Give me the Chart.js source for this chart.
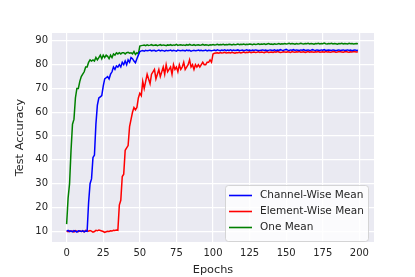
<!DOCTYPE html>
<html>
<head>
<meta charset="utf-8">
<script src="https://cdn.jsdelivr.net/npm/chart.js@4"></script>
<style>
  body { margin: 0; background: #fff; }
  canvas { display: block; }
</style>
</head>
<body>
<canvas id="acc-chart" width="415" height="277"></canvas>
<script>
const xTicks = [0, 25, 50, 75, 100, 125, 150, 175, 200]
const yTicks = [10, 20, 30, 40, 50, 60, 70, 80, 90]
const seriesLabels = ["Channel-Wise Mean", "Element-Wise Mean", "One Mean"]

const channelWise = [
    10.1, 10.4, 9.9, 10.2, 9.8, 10.3, 10.0, 9.7, 10.2, 10.1,
    9.9, 10.3, 9.8, 10.1, 10.0, 22, 30, 32, 41, 42,
    55, 63, 66, 66.5, 67, 71, 74, 74.5, 75, 74,
    76, 77, 79, 78, 79.5, 79, 80, 79, 81, 80,
    81.5, 80, 82, 81, 83, 82.5, 81.5, 80.8, 82.5, 84,
    85.5, 85.8, 85.9, 85.7, 86.0, 85.8, 85.9, 86.1, 85.8, 85.9,
    86.0, 85.7, 85.9, 86.1, 85.8, 86.0, 85.9, 85.7, 86.0, 85.8,
    85.9, 86.1, 85.8, 86.0, 85.9, 85.7, 86.1, 85.9, 85.8, 86.0,
    85.9, 85.8, 86.1, 85.9, 86.0, 85.7, 85.9, 86.0, 85.8, 85.9,
    86.1, 85.9, 86.0, 85.8, 85.9, 86.1, 85.8, 86.0, 85.9, 85.8,
    86.0, 86.1, 85.9, 86.2, 86.0, 85.9, 86.1, 86.0, 86.2, 85.9,
    86.1, 86.0, 86.2, 85.9, 86.1, 86.0, 86.1, 86.2, 85.9, 86.0,
    86.1, 85.9, 86.0, 86.2, 86.0, 86.1, 85.9, 86.1, 86.0, 86.2,
    86.1, 85.9, 86.0, 86.1, 86.2, 86.0, 86.1, 85.9, 86.0, 86.2,
    86.1, 86.0, 86.2, 85.9, 86.1, 86.0, 86.3, 86.1, 86.0, 86.2,
    86.4, 86.1, 86.0, 86.2, 86.1, 86.3, 86.0, 86.2, 86.1, 86.0,
    86.2, 86.1, 86.3, 86.0, 86.1, 86.2, 86.0, 86.1, 86.3, 86.1,
    86.0, 86.2, 86.1, 86.0, 86.2, 86.1, 86.3, 86.0, 86.1, 86.2,
    86.1, 86.0, 86.2, 86.1, 85.9, 86.1, 86.2, 86.0, 86.1, 86.2,
    86.0, 86.1, 86.2, 86.0, 86.1, 85.9, 86.1, 86.2, 86.0, 86.1
]

const elementWise = [
    10.0, 9.8, 10.2, 9.9, 10.1, 9.7, 10.3, 10.0, 9.8, 10.2,
    9.9, 10.1, 9.8, 10.4, 10.2, 10.0, 10.3, 10.1, 9.6, 9.9,
    10.4, 10.2, 10.5, 10.3, 10.1, 9.9, 9.5, 9.8, 10.0, 9.9,
    10.2, 10.1, 10.4, 10.3, 10.5, 10.4, 21, 23, 33, 34,
    44, 45, 46, 54, 57, 60, 62, 61, 62, 66,
    68, 67, 73, 70, 73, 76, 74, 72, 76, 77,
    78, 74, 76, 78, 75, 77, 79, 76, 80, 77,
    78, 79, 76, 80, 78, 79, 77, 80, 78, 79,
    81, 78, 79, 80, 82, 79, 80, 78, 80, 79,
    80, 79, 80, 81, 80, 80, 81, 81, 82, 81,
    84.5, 84.8, 84.9, 85.0, 84.8, 85.1, 84.9, 85.0, 85.2, 84.9,
    85.0, 85.1, 84.9, 85.2, 85.0, 84.8, 85.1, 85.0, 85.2, 84.9,
    85.1, 85.3, 85.0, 85.2, 85.1, 85.4, 85.0, 85.2, 85.3, 85.1,
    85.2, 85.4, 85.1, 85.3, 85.2, 85.0, 85.3, 85.4, 85.1, 85.2,
    85.3, 85.1, 85.4, 85.2, 85.5, 85.3, 85.1, 85.2, 85.4, 85.3,
    85.2, 85.4, 85.3, 85.1, 85.5, 85.3, 85.2, 85.4, 85.3, 85.5,
    85.2, 85.3, 85.4, 85.1, 85.3, 85.5, 85.2, 85.4, 85.3, 85.2,
    85.4, 85.3, 85.5, 85.2, 85.3, 85.4, 85.2, 85.5, 85.3, 85.4,
    85.2, 85.3, 85.5, 85.4, 85.2, 85.3, 85.5, 85.4, 85.3, 85.2,
    85.4, 85.5, 85.3, 85.2, 85.4, 85.3, 85.5, 85.4, 85.3, 85.4
]

const oneMean = [
    13, 24, 30, 44, 55, 57, 66, 70, 70, 73,
    75, 76, 77, 79, 79, 81, 82, 81.5, 82, 81.5,
    83, 82, 83, 84, 82.5, 84, 83, 84, 83.5, 82.5,
    84, 83, 84.5, 84, 85, 84.5, 85, 84.5, 85, 85,
    84.5, 85, 85.2, 84.8, 85, 84.5, 85.5, 84.3, 85, 84.5,
    87.8, 88.0, 88.1, 88.2, 88.0, 88.3, 88.1, 88.2, 88.4, 88.1,
    88.2, 88.3, 88.0, 88.2, 88.4, 88.1, 88.3, 88.2, 88.0, 88.3,
    88.2, 88.4, 88.1, 88.3, 88.2, 88.5, 88.1, 88.3, 88.4, 88.2,
    88.3, 88.1, 88.4, 88.2, 88.5, 88.3, 88.2, 88.4, 88.1, 88.3,
    88.4, 88.2, 88.3, 88.5, 88.2, 88.4, 88.3, 88.1, 88.4, 88.3,
    88.5, 88.3, 88.4, 88.6, 88.3, 88.5, 88.4, 88.6, 88.3, 88.5,
    88.4, 88.6, 88.5, 88.3, 88.6, 88.4, 88.5, 88.7, 88.4, 88.6,
    88.5, 88.7, 88.4, 88.6, 88.5, 88.7, 88.6, 88.4, 88.7, 88.5,
    88.6, 88.8, 88.5, 88.7, 88.6, 88.8, 88.5, 88.7, 88.9, 88.6,
    88.7, 88.5, 88.8, 88.6, 88.7, 88.9, 88.6, 88.8, 88.7, 88.9,
    88.7, 88.8, 89.0, 88.7, 88.9, 88.8, 88.6, 88.9, 88.7, 88.8,
    89.0, 88.8, 88.7, 88.9, 88.8, 89.0, 88.7, 88.9, 88.8, 88.6,
    88.9, 88.8, 89.0, 88.7, 88.9, 88.8, 89.1, 88.8, 88.7, 88.9,
    88.8, 89.0, 88.7, 88.9, 88.8, 88.6, 88.9, 88.8, 89.0, 88.7,
    88.9, 88.8, 88.7, 89.0, 88.8, 88.9, 88.7, 88.8, 88.9, 88.8
]

const FONT = "'DejaVu Sans', sans-serif"
const TEXT = "#262626"

const toPoints = arr => arr.map((v, i) => ({ x: i, y: v }))

// seaborn style grey panel behind the grid
const panelBg = {
    id: 'panelBg',
    beforeDraw(chart) {
        const { ctx, chartArea: a } = chart
        ctx.save()
        ctx.fillStyle = '#EAEAF2'
        ctx.fillRect(a.left, a.top, a.right - a.left, a.bottom - a.top)
        ctx.restore()
    }
}

// legend box in the lower right corner, inside the plot
const innerLegend = {
    id: 'innerLegend',
    afterDraw(chart) {
        const { ctx } = chart
        const x = 225, y = 185, w = 143, h = 56
        ctx.save()
        ctx.beginPath()
        ctx.roundRect(x + 0.5, y + 0.5, w, h, 3)
        ctx.fillStyle = 'rgba(255,255,255,0.8)'
        ctx.fill()
        ctx.strokeStyle = 'rgba(204,204,204,0.8)'
        ctx.lineWidth = 1
        ctx.stroke()
        ctx.font = '10.5px ' + FONT
        ctx.textBaseline = 'middle'
        chart.data.datasets.forEach((ds, i) => {
            const ry = y + 10.5 + i * 16
            ctx.beginPath()
            ctx.moveTo(x + 4, ry)
            ctx.lineTo(x + 27, ry)
            ctx.strokeStyle = ds.borderColor
            ctx.lineWidth = 1.6
            ctx.stroke()
            ctx.fillStyle = TEXT
            ctx.fillText(ds.label, x + 35, ry)
        })
        ctx.restore()
    }
}

const colors = ['#0000ff', '#ff0000', '#008000']
const series = [channelWise, elementWise, oneMean]

new Chart(document.getElementById('acc-chart'), {
    type: 'line',
    data: {
        datasets: series.map((s, i) => ({
            label: seriesLabels[i],
            data: toPoints(s),
            borderColor: colors[i],
            borderWidth: 1.5,
            pointRadius: 0,
            tension: 0,
            fill: false
        }))
    },
    options: {
        responsive: false,
        animation: false,
        layout: { padding: { top: 33, right: 41, left: 0, bottom: 0 } },
        plugins: {
            legend: { display: false },
            tooltip: { enabled: false }
        },
        scales: {
            x: {
                type: 'linear',
                min: -10,
                max: 210,
                afterBuildTicks: axis => { axis.ticks = xTicks.map(v => ({ value: v })) },
                afterFit: axis => { axis.height = 35 },
                grid: { color: '#ffffff', lineWidth: 1.2, drawTicks: false },
                border: { display: false },
                ticks: { font: { family: FONT, size: 10 }, color: TEXT, padding: 5, maxRotation: 0 },
                title: { display: true, text: 'Epochs', font: { family: FONT, size: 11.3 }, color: TEXT, padding: { top: 0, bottom: 0 } }
            },
            y: {
                min: 5.5,
                max: 93.3,
                afterBuildTicks: axis => { axis.ticks = yTicks.map(v => ({ value: v })) },
                afterFit: axis => { axis.width = 52 },
                grid: { color: '#ffffff', lineWidth: 1.2, drawTicks: false },
                border: { display: false },
                ticks: { font: { family: FONT, size: 10 }, color: TEXT, padding: 4 },
                title: { display: true, text: 'Test Accuracy', font: { family: FONT, size: 11.3 }, color: TEXT, padding: { top: 13, bottom: 0 } }
            }
        }
    },
    plugins: [panelBg, innerLegend]
})
</script>
</body>
</html>
